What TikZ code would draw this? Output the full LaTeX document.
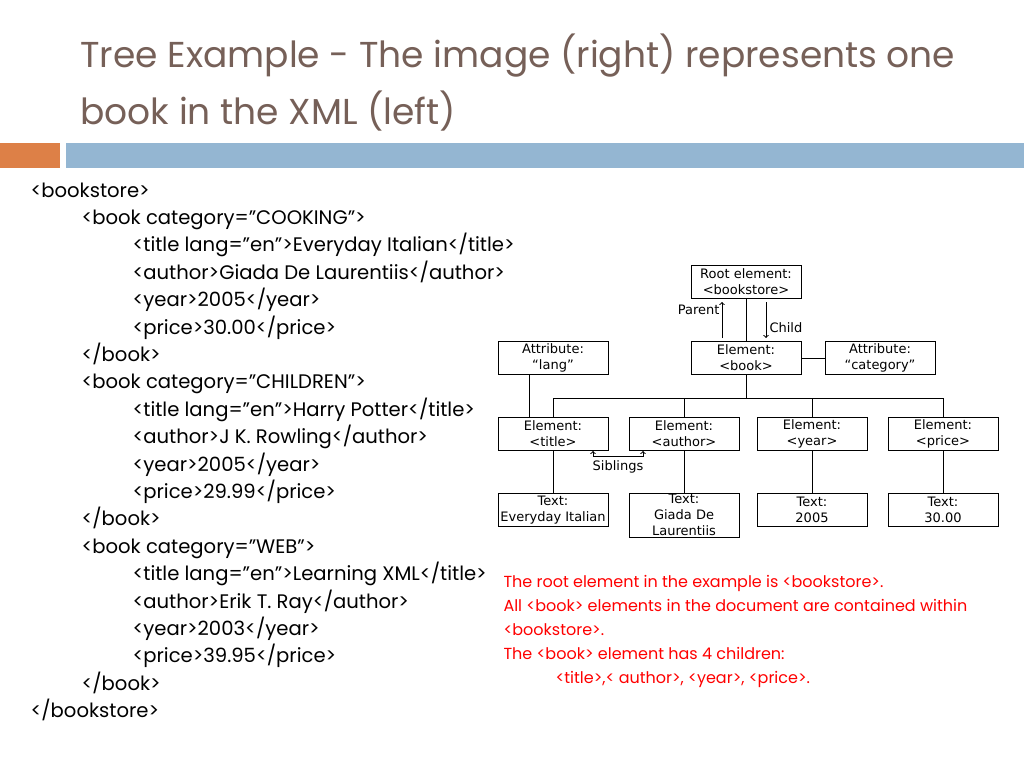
\documentclass[tikz,border=0pt]{standalone}
\usepackage{fontspec}
\setmainfont{Poppins}
\newfontfamily\diafont{DejaVu Sans}
\usetikzlibrary{positioning,calc}

\definecolor{titlegray}{RGB}{118,96,88}
\definecolor{barorange}{RGB}{221,128,71}
\definecolor{barblue}{RGB}{148,182,210}
\definecolor{notered}{RGB}{255,0,0}

\tikzset{
  box/.style={draw,line width=1pt,minimum width=110pt,minimum height=33pt,inner sep=1pt,align=center,font=\diafont\fontsize{13}{16}\selectfont},
  tag/.style={inner sep=0pt,font=\diafont\fontsize{13}{16}\selectfont},
  xmlline/.style={anchor=base west,inner sep=0pt,font=\fontsize{19.6}{22}\selectfont},
  noteline/.style={anchor=base west,inner sep=0pt,text=notered,font=\fontsize{16}{18}\selectfont},
  heading/.style={anchor=base west,inner sep=0pt,text=titlegray,font=\fontsize{36}{40}\selectfont}
}

\begin{document}
\begin{tikzpicture}[x=1pt,y=-1pt,>=to,line width=1pt]
  \useasboundingbox (0,0) rectangle (1024,768);
  % heading and bars
  \node[heading] (head1) at (80,67) {Tree Example - The image (right) represents one};
  \node[heading] (head2) at (80,124) {book in the XML (left)};
  \fill[barorange] (0,143) rectangle (60,168);
  \fill[barblue] (66,143) rectangle (1024,168);
  % xml listing
  \foreach \lvl/\txt [count=\n] in {0/{<bookstore>},1/{<book category="COOKING”>},
      2/{<title lang="en">Everyday Italian</title>},2/{<author>Giada De Laurentiis</author>},
      2/{<year>2005</year>},2/{<price>30.00</price>},1/{</book>},
      1/{<book category="CHILDREN”>},2/{<title lang="en">Harry Potter</title>},
      2/{<author>J K. Rowling</author>},2/{<year>2005</year>},2/{<price>29.99</price>},
      1/{</book>},1/{<book category="WEB”>},2/{<title lang="en">Learning XML</title>},
      2/{<author>Erik T. Ray</author>},2/{<year>2003</year>},2/{<price>39.95</price>},
      1/{</book>},0/{</bookstore>}}
    \node[xmlline] (xml\n) at (30+51*\lvl,197+27.4*\n-27.4) {\txt};
  % tree
  \node[box] (root) at (746,282) {Root element:\\<bookstore>};
  \node[box] (book) at (746,358) {Element:\\<book>};
  \node[box] (cat) at (880,358) {Attribute:\\“category”};
  \node[box] (lang) at (553,358) {Attribute:\\“lang”};
  \coordinate (bar) at (0,398);
  \draw (root.south) -- (book.north);
  \draw (book.east) -- (cat.west);
  \draw (book.south) -- (book.south |- bar);
  \foreach \nm/\x/\tg/\val in {title/553/{<title>}/{Everyday Italian},author/684/{<author>}/{Giada De\\Laurentiis},
      year/812/{<year>}/{2005},price/943/{<price>}/{30.00}} {
    \node[box,anchor=north] (\nm) at (\x,417) {Element:\\\tg};
    \node[box,anchor=north] (txt\nm) at (\x,493) {Text:\\\val};
    \draw (\nm.south) -- (txt\nm.north);
    \draw (\nm.north) -- (\nm.north |- bar);
  }
  \draw (title.north |- bar) -- (price.north |- bar);
  \draw ([xshift=-24pt]lang.south) -- ([xshift=-24pt]lang.south |- title.north);
  % parent / child
  \draw[->,shorten <=3pt,shorten >=3pt] ([xshift=-24pt]book.north) -- ([xshift=-24pt]book.north |- root.south)
    node[tag,pos=0.73,left=2pt] (parent) {Parent};
  \draw[->,shorten <=3pt,shorten >=3pt] ([xshift=20pt]book.north |- root.south) -- ([xshift=20pt]book.north)
    node[tag,pos=0.68,right=3pt] (child) {Child};
  % siblings
  \coordinate (sibL) at (593,451);
  \coordinate (sibR) at (643,451);
  \draw[<->] (sibL) -- ++(0,5) -| (sibR);
  \node[tag] (siblings) at (618,467) {Siblings};
  % notes
  \foreach \ind/\txt [count=\n] in {0/{The root element in the example is <bookstore>.},
      0/{All <book> elements in the document are contained within},0/{<bookstore>.},
      0/{The <book> element has 4 children:},52/{<title>,< author>, <year>, <price>.}}
    \node[noteline] (note\n) at (503+\ind,587+24*\n-24) {\txt};
\end{tikzpicture}
\end{document}
